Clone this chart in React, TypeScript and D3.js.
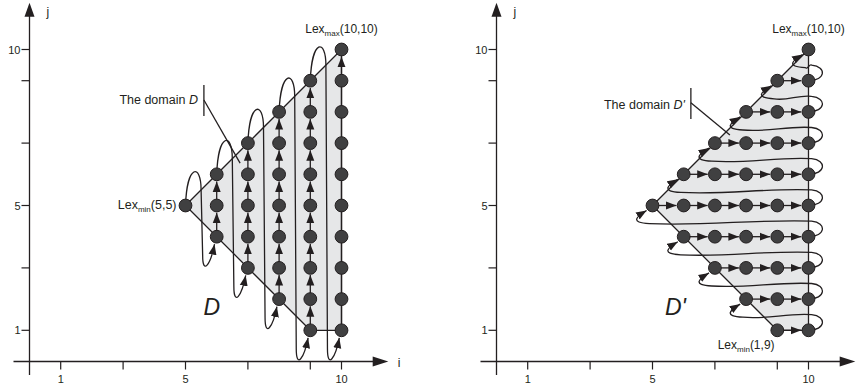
import React from "react";
import * as d3 from "d3";

// ---- data ----
const TICKS = [1, 3, 5, 7, 9, 10];
const TICK_LABELS = [1, 5, 10];
const DOMAIN_VERTICES: [number, number][] = [[5, 5], [10, 10], [10, 1], [9, 1]];
// left panel: column-wise traversal (lexicographic on (i, j))
const COL_I = [5, 6, 7, 8, 9, 10];
const COL_J_MIN = [5, 4, 3, 2, 1, 1];
const COL_J_MAX = [5, 6, 7, 8, 9, 10];
const LAST_COL_ARROW_FROM = [9];
// right panel: row-wise traversal (lexicographic on (j, i))
const ROW_J = [1, 2, 3, 4, 5, 6, 7, 8, 9, 10];
const ROW_I_MIN = [9, 8, 7, 6, 5, 6, 7, 8, 9, 10];
const ROW_I_MAX = [10, 10, 10, 10, 10, 10, 10, 10, 10, 10];

const W = 861;
const H = 389;
const INK = "#231f20";
const DOT_FILL = "#404041";
const FILL = "#e6e7e8";
const R = 6.4;
const FONT = "'Liberation Sans', Arial, sans-serif";

const y = d3.scaleLinear().domain([0, 10]).range([361.5, 49.5]);
const xLeft = d3.scaleLinear().domain([0, 10]).range([29.5, 341.5]);
const xRight = d3.scaleLinear().domain([0, 10]).range([496.5, 808.5]);

function Axes({ x, showI }: { x: d3.ScaleLinear<number, number>; showI: boolean }) {
  const x0 = x(0);
  const y0 = y(0);
  const tipX = x(11.5);
  const tipY = y(11.5);
  return (
    <g stroke={INK} fill="none">
      <line x1={x0} y1={y0 + 13.5} x2={x0} y2={y(11.1)} strokeWidth={1.3} />
      <line x1={x0 - 16} y1={y0} x2={x(11.1)} y2={y0} strokeWidth={1.3} />
      <path d={`M${x0},${tipY} L${x0 - 5},${y(11.05)} L${x0 + 5},${y(11.05)} Z`} fill={INK} stroke="none" />
      <path d={`M${tipX},${y0} L${x(11.0)},${y0 - 5} L${x(11.0)},${y0 + 5} Z`} fill={INK} stroke="none" />
      {TICKS.map((t) => (
        <g key={"t" + t}>
          <line x1={x(t)} y1={y0} x2={x(t)} y2={y0 + 8} strokeWidth={1.2} />
          <line x1={x0 - 8} y1={y(t)} x2={x0} y2={y(t)} strokeWidth={1.2} />
        </g>
      ))}
      {TICK_LABELS.map((t) => (
        <g key={"l" + t} fill={INK} stroke="none" fontFamily={FONT} fontSize={11}>
          <text x={x(t)} y={y0 + 21} textAnchor="middle">{t}</text>
          <text x={x0 - 9} y={y(t) + 4} textAnchor="end">{t}</text>
        </g>
      ))}
      <text x={x0 + 17} y={16} fill={INK} stroke="none" fontFamily={FONT} fontSize={12}>j</text>
      {showI && (
        <text x={x(11.8)} y={y0 + 5} fill={INK} stroke="none" fontFamily={FONT} fontSize={12}>i</text>
      )}
    </g>
  );
}

function Domain({ x }: { x: d3.ScaleLinear<number, number> }) {
  const d = d3.line<[number, number]>().x((p) => x(p[0])).y((p) => y(p[1]))(DOMAIN_VERTICES) + "Z";
  return <path d={d} fill={FILL} stroke={INK} strokeWidth={1.3} strokeLinejoin="round" />;
}

function Loop({ d }: { d: string }) {
  return <path d={d} fill="none" stroke={INK} strokeWidth={1.3} markerEnd="url(#ah)" />;
}

function LeftPanel() {
  const x = xLeft;
  const loops: string[] = [];
  for (let k = 0; k < COL_I.length - 1; k++) {
    const i = COL_I[k];
    const top = COL_J_MAX[k];
    const b = COL_J_MIN[k + 1];
    const p = d3.path();
    p.moveTo(x(i), y(top));
    p.bezierCurveTo(x(i + 0.05), y(top + 1.35), x(i + 0.5), y(top + 1.35), x(i + 0.5), y(top + 0.5));
    p.lineTo(x(i + 0.55), y(b - 0.6));
    p.bezierCurveTo(x(i + 0.55), y(b - 1.25), x(i + 0.8), y(b - 0.9), x(i + 0.93), y(b - 0.24));
    loops.push(p.toString());
  }
  const segs: { i: number; j: number; arrow: boolean }[] = [];
  COL_I.forEach((i, k) => {
    for (let j = COL_J_MIN[k]; j < COL_J_MAX[k]; j++) {
      const last = k === COL_I.length - 1;
      segs.push({ i, j, arrow: !last || LAST_COL_ARROW_FROM.includes(j) });
    }
  });
  const dots: [number, number][] = [];
  COL_I.forEach((i, k) => {
    for (let j = COL_J_MIN[k]; j <= COL_J_MAX[k]; j++) dots.push([i, j]);
  });
  return (
    <g>
      <Axes x={x} showI={true} />
      <Domain x={x} />
      {loops.map((d, n) => <Loop key={n} d={d} />)}
      {segs.map((s, n) => (
        <line key={n} x1={x(s.i)} y1={y(s.j)} x2={x(s.i)} y2={s.arrow ? y(s.j + 1) + R + 0.8 : y(s.j + 1)}
          stroke={INK} strokeWidth={1.3} markerEnd={s.arrow ? "url(#ah)" : undefined} />
      ))}
      {dots.map(([i, j]) => (
        <circle key={i + "-" + j} cx={x(i)} cy={y(j)} r={R} fill={DOT_FILL} stroke={INK} strokeWidth={1} />
      ))}
      <g fontFamily={FONT} fill={INK}>
        <text x={x(5.59) - 6} y={104} fontSize={12.5} textAnchor="end">
          The domain  <tspan fontStyle="italic">D</tspan>
        </text>
        <text x={x(10)} y={33} fontSize={12} textAnchor="middle">
          Lex<tspan fontSize={8} dy={3}>max</tspan><tspan dy={-3}>(10,10)</tspan>
        </text>
        <text x={x(5) - 9} y={209} fontSize={12.5} textAnchor="end">
          Lex<tspan fontSize={8} dy={3}>min</tspan><tspan dy={-3}>(5,5)</tspan>
        </text>
        <text x={x(5.58)} y={315} fontSize={23} fontStyle="italic">D</text>
      </g>
      <line x1={x(5.59)} y1={y(8.86)} x2={x(5.59)} y2={y(7.87)} stroke={INK} strokeWidth={1.3} />
      <line x1={x(5.59)} y1={y(8.38)} x2={x(6.75)} y2={y(6.36)} stroke={INK} strokeWidth={1.3} />
    </g>
  );
}

function RightPanel() {
  const x = xRight;
  const loops: string[] = [];
  for (let k = 0; k < ROW_J.length - 1; k++) {
    const j = ROW_J[k];
    const e = ROW_I_MAX[k];
    const s = ROW_I_MIN[k + 1];
    const p = d3.path();
    p.moveTo(x(e), y(j));
    p.bezierCurveTo(x(e + 0.55), y(j), x(e + 0.6), y(j + 0.45), x(e + 0.1), y(j + 0.5));
    const a = e + 0.1;
    const bEnd = s - 0.1;
    const len = a - bEnd;
    p.bezierCurveTo(x(a - len * 0.35), y(j + 0.56), x(bEnd + len * 0.35), y(j + 0.34), x(bEnd), y(j + 0.42));
    p.bezierCurveTo(x(s - 0.75), y(j + 0.45), x(s - 0.5), y(j + 0.65), x(s - 0.19), y(j + 0.84));
    loops.push(p.toString());
  }
  const segs: { i: number; j: number }[] = [];
  const dots: [number, number][] = [];
  ROW_J.forEach((j, k) => {
    for (let i = ROW_I_MIN[k]; i < ROW_I_MAX[k]; i++) segs.push({ i, j });
    for (let i = ROW_I_MIN[k]; i <= ROW_I_MAX[k]; i++) dots.push([i, j]);
  });
  return (
    <g>
      <Axes x={x} showI={false} />
      <Domain x={x} />
      {loops.map((d, n) => <Loop key={n} d={d} />)}
      {segs.map((s, n) => (
        <line key={n} x1={x(s.i)} y1={y(s.j)} x2={x(s.i + 1) - R - 0.8} y2={y(s.j)}
          stroke={INK} strokeWidth={1.3} markerEnd="url(#ah)" />
      ))}
      {dots.map(([i, j]) => (
        <circle key={i + "-" + j} cx={x(i)} cy={y(j)} r={R} fill={DOT_FILL} stroke={INK} strokeWidth={1} />
      ))}
      <g fontFamily={FONT} fill={INK}>
        <text x={x(6.23) - 6} y={109} fontSize={12.5} textAnchor="end">
          The domain  <tspan fontStyle="italic">D'</tspan>
        </text>
        <text x={x(10)} y={33} fontSize={12} textAnchor="middle">
          Lex<tspan fontSize={8} dy={3}>max</tspan><tspan dy={-3}>(10,10)</tspan>
        </text>
        <text x={x(8)} y={349} fontSize={12} textAnchor="middle">
          Lex<tspan fontSize={8} dy={3}>min</tspan><tspan dy={-3}>(1,9)</tspan>
        </text>
        <text x={x(5.4)} y={315} fontSize={23} fontStyle="italic">D'</text>
      </g>
      <line x1={x(6.23)} y1={y(8.77)} x2={x(6.23)} y2={y(7.77)} stroke={INK} strokeWidth={1.3} />
      <line x1={x(6.23)} y1={y(8.29)} x2={x(7.48)} y2={y(7.26)} stroke={INK} strokeWidth={1.3} />
    </g>
  );
}

export default function App() {
  return (
    <svg width={W} height={H} style={{ position: "absolute", left: 0, top: 0, background: "#fff" }}>
      <defs>
        <marker id="ah" markerUnits="userSpaceOnUse" markerWidth={11} markerHeight={9}
          refX={10.5} refY={4.5} orient="auto" viewBox="0 0 11 9">
          <path d="M0,0.5 L10.5,4.5 L0,8.5 Z" fill={INK} />
        </marker>
      </defs>
      <rect width={W} height={H} fill="#fff" />
      <LeftPanel />
      <RightPanel />
    </svg>
  );
}
